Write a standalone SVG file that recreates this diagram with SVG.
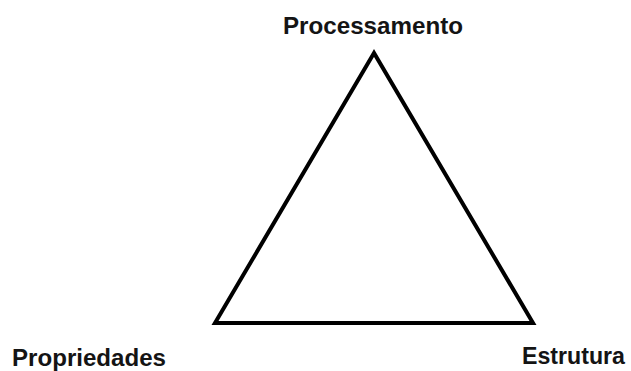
<svg xmlns="http://www.w3.org/2000/svg" width="631" height="371" viewBox="0 0 631 371">
<style>
.lbl{font-family:"Liberation Sans",Arial,sans-serif;font-weight:bold;font-size:24.5px;fill:#141414}
.edge{fill:none;stroke:#000;stroke-width:4;stroke-linejoin:miter}
</style>
<rect width="631" height="371" fill="#fff"/>
<g id="connectors">
<polygon class="edge" points="374,53 215,323 533,323"/>
</g>
<g id="node-processamento"><text class="lbl" x="283" y="34" textLength="180" lengthAdjust="spacingAndGlyphs">Processamento</text></g>
<g id="node-propriedades"><text class="lbl" x="12" y="366" textLength="154" lengthAdjust="spacingAndGlyphs">Propriedades</text></g>
<g id="node-estrutura"><text class="lbl" x="522" y="364" textLength="103" lengthAdjust="spacingAndGlyphs">Estrutura</text></g>
</svg>
